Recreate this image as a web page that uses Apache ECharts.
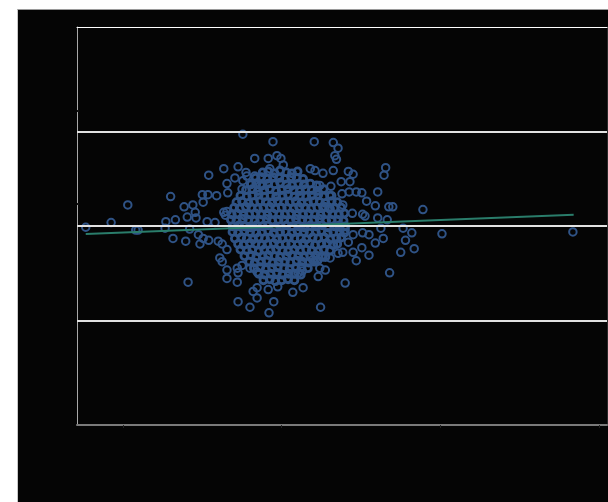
<!DOCTYPE html>
<html>
<head>
<meta charset="utf-8">
<script src="https://cdn.jsdelivr.net/npm/echarts@6/dist/echarts.min.js"></script>
<style>
  html, body { margin: 0; padding: 0; background: #ffffff; }
  #chart {
    position: absolute; left: 17px; top: 9px;
    width: 590px; height: 492px;
    background: #050505;
    border-top: 1px solid #9a9a9a;
    border-left: 1px solid #c8c8c8;
  }
</style>
</head>
<body>
<div id="chart"></div>
<script>
// Bland-Altman: x = mean of the two methods, y = difference
const xTicks = [20, 40, 60, 80]
const yTicks = [0, 10]

// scattered points around the core
const sparsePoints = [
  [15.3, -2.5], [18.5, -2.0], [20.6, -0.1], [21.6, -2.8], [21.9, -2.8],
  [25.3, -2.6], [25.4, -1.9], [26.0, 0.8], [26.3, -3.7], [26.6, -1.7],
  [27.7, -0.3], [28.1, -1.4], [27.9, -4.0], [28.2, -8.4], [28.4, -2.7],
  [28.8, -0.1], [29.1, -0.9], [29.2, -1.5], [29.5, -3.3], [29.7, -4.3],
  [30.0, 1.0], [30.1, 0.2], [30.1, -3.7], [30.6, -1.9], [30.7, 1.0],
  [30.8, 3.1], [30.8, -3.9], [31.6, -2.0], [31.8, 0.9], [32.0, -4.0],
  [32.2, -5.8], [32.5, -6.2], [32.5, -4.3], [32.7, 3.8], [32.7, -0.9],
  [32.9, -1.2], [33.1, 2.2], [33.1, -0.8], [33.1, -4.9], [33.1, -7.1],
  [33.1, -8.0], [33.2, 1.2], [34.1, 2.8], [34.4, -6.9], [34.4, -8.4],
  [34.5, 4.0], [34.5, -7.4], [34.5, -10.5], [35.0, -6.6], [35.0, 1.6],
  [35.1, 2.5], [35.1, 7.5], [35.5, 3.4], [35.6, 3.0], [36.0, -6.9],
  [36.0, -11.1], [36.2, 2.2], [36.4, -9.4], [36.6, 4.9], [36.6, 3.0],
  [36.9, -7.3], [36.9, -9.0], [36.9, -10.1], [37.3, 2.0], [38.3, 4.9],
  [38.3, -9.2], [38.4, -11.7], [38.5, 3.8], [38.9, 6.7], [39.0, -10.5],
  [39.4, 5.2], [39.5, -8.9], [39.9, 4.9], [40.2, 4.2], [40.7, -8.0],
  [41.4, -9.5], [42.1, -7.4], [42.6, -7.2], [42.7, -9.0], [43.6, 3.8],
  [44.1, 6.7], [43.9, -6.0], [44.2, 3.6], [44.6, -7.8], [44.8, 2.0],
  [44.8, -6.9], [44.9, -11.1], [45.1, -5.7], [45.2, 3.3], [45.5, -0.3],
  [45.5, -7.1], [46.1, -0.5], [46.1, -5.8], [46.2, 1.9], [46.3, 0.9],
  [46.5, 3.6], [46.5, 6.6], [46.5, -4.4], [46.7, 5.2], [46.9, 4.8],
  [47.1, 6.0], [47.1, -5.3], [47.3, -2.5], [47.5, 2.4], [47.6, 1.1],
  [47.7, -0.1], [47.7, -5.2], [48.0, -2.8], [48.0, -8.5], [48.4, 3.5],
  [48.4, -4.1], [48.5, 1.3], [48.6, 2.4], [48.9, -1.0], [49.0, 3.2],
  [49.0, -3.3], [49.0, -5.2], [49.4, -6.1], [49.4, 1.3], [50.1, 1.2],
  [50.1, -4.7], [50.2, -1.1], [50.2, -3.1], [50.5, -1.3], [50.7, 0.3],
  [51.0, -3.3], [51.0, -5.5], [51.8, -0.2], [51.8, -4.2], [52.1, 1.3],
  [52.1, -1.5], [52.5, -2.6], [52.8, -3.7], [52.9, 3.1], [53.1, 3.9],
  [53.3, -1.7], [53.5, -0.3], [53.6, -7.4], [54.0, -0.3], [55.0, -5.2],
  [55.3, -2.6], [55.6, -3.9], [56.4, -3.1], [56.7, -4.8], [57.8, -0.6],
  [60.2, -3.2], [76.7, -3.0]
]

// dense core of the cloud
const densePoints = [
  [37.6, 3.4], [38.3, 3.5], [39.1, 3.3], [39.8, 3.6], [40.6, 3.4], [41.3, 3.3], [42.0, 3.5],
  [36.7, 2.8], [37.4, 2.9], [38.2, 2.7], [38.9, 2.9], [39.7, 2.8], [40.4, 2.7], [41.2, 2.9], [41.9, 2.8], [42.7, 2.7],
  [36.1, 2.1], [36.8, 2.2], [37.6, 2.0], [38.3, 2.2], [39.1, 2.1], [39.8, 2.3], [40.6, 2.1], [41.3, 2.0], [42.1, 2.2], [42.8, 2.1], [43.6, 2.2], [44.4, 2.0],
  [35.5, 1.5], [36.3, 1.6], [37.0, 1.4], [37.8, 1.5], [38.5, 1.6], [39.3, 1.4], [40.0, 1.5], [40.8, 1.6], [41.5, 1.5], [42.3, 1.4], [43.0, 1.6], [43.8, 1.5], [44.5, 1.4], [45.3, 1.6],
  [34.8, 0.9], [35.6, 0.8], [36.3, 0.9], [37.1, 1.0], [37.8, 0.8], [38.6, 0.9], [39.3, 0.8], [40.1, 0.9], [40.8, 1.0], [41.6, 0.8], [42.3, 0.9], [43.1, 0.8], [43.8, 0.9], [44.6, 1.0], [45.3, 0.8], [46.1, 0.9],
  [34.3, 0.2], [35.0, 0.3], [35.8, 0.1], [36.5, 0.2], [37.3, 0.3], [38.0, 0.2], [38.8, 0.1], [39.5, 0.3], [40.3, 0.2], [41.0, 0.2], [41.8, 0.3], [42.5, 0.1], [43.3, 0.2], [44.0, 0.3], [44.8, 0.2], [45.5, 0.1], [46.3, 0.3], [47.0, 0.2],
  [34.0, -0.4], [34.7, -0.5], [35.5, -0.3], [36.2, -0.4], [37.0, -0.5], [37.7, -0.4], [38.5, -0.3], [39.2, -0.5], [40.0, -0.4], [40.7, -0.4], [41.5, -0.5], [42.2, -0.3], [43.0, -0.4], [43.7, -0.5], [44.5, -0.4], [45.2, -0.3], [46.0, -0.5], [46.7, -0.4], [47.5, -0.4],
  [33.7, -1.1], [34.4, -1.0], [35.2, -1.2], [35.9, -1.1], [36.7, -1.0], [37.4, -1.1], [38.2, -1.2], [38.9, -1.0], [39.7, -1.1], [40.4, -1.1], [41.2, -1.0], [41.9, -1.2], [42.7, -1.1], [43.4, -1.0], [44.2, -1.1], [44.9, -1.2], [45.7, -1.0], [46.4, -1.1], [47.2, -1.1], [47.9, -1.0],
  [33.6, -1.7], [34.3, -1.8], [35.1, -1.6], [35.8, -1.7], [36.6, -1.8], [37.3, -1.7], [38.1, -1.6], [38.8, -1.8], [39.6, -1.7], [40.3, -1.7], [41.1, -1.8], [41.8, -1.6], [42.6, -1.7], [43.3, -1.8], [44.1, -1.7], [44.8, -1.6], [45.6, -1.8], [46.3, -1.7], [47.1, -1.7], [47.8, -1.8],
  [33.8, -2.4], [34.6, -2.3], [35.3, -2.4], [36.1, -2.5], [36.8, -2.3], [37.6, -2.4], [38.3, -2.3], [39.1, -2.5], [39.8, -2.4], [40.6, -2.3], [41.3, -2.4], [42.1, -2.4], [42.8, -2.5], [43.6, -2.3], [44.3, -2.4], [45.1, -2.3], [45.8, -2.5], [46.6, -2.4], [47.3, -2.3], [48.0, -2.4],
  [33.8, -3.0], [34.5, -3.1], [35.3, -2.9], [36.0, -3.0], [36.8, -3.1], [37.5, -3.0], [38.3, -2.9], [39.0, -3.1], [39.8, -3.0], [40.5, -3.0], [41.3, -3.1], [42.0, -2.9], [42.8, -3.0], [43.5, -3.1], [44.3, -3.0], [45.0, -2.9], [45.8, -3.1], [46.5, -3.0], [47.3, -3.0], [47.9, -3.1],
  [34.1, -3.7], [34.9, -3.6], [35.6, -3.7], [36.4, -3.8], [37.1, -3.6], [37.9, -3.7], [38.6, -3.6], [39.4, -3.8], [40.1, -3.7], [40.9, -3.6], [41.6, -3.7], [42.4, -3.7], [43.1, -3.8], [43.9, -3.6], [44.6, -3.7], [45.4, -3.6], [46.1, -3.8], [46.9, -3.7], [47.5, -3.6],
  [34.5, -4.3], [35.2, -4.4], [36.0, -4.2], [36.7, -4.3], [37.5, -4.4], [38.2, -4.3], [39.0, -4.2], [39.7, -4.4], [40.5, -4.3], [41.2, -4.3], [42.0, -4.4], [42.7, -4.2], [43.5, -4.3], [44.2, -4.4], [45.0, -4.3], [45.7, -4.2], [46.5, -4.4], [47.0, -4.3],
  [34.8, -4.9], [35.6, -5.0], [36.3, -4.9], [37.1, -5.1], [37.8, -4.9], [38.6, -5.0], [39.3, -4.9], [40.1, -5.0], [40.8, -5.1], [41.6, -4.9], [42.3, -5.0], [43.1, -4.9], [43.8, -5.0], [44.6, -5.1], [45.3, -4.9], [46.1, -5.0],
  [35.3, -5.6], [36.1, -5.5], [36.8, -5.7], [37.6, -5.6], [38.3, -5.5], [39.1, -5.6], [39.8, -5.7], [40.6, -5.6], [41.3, -5.5], [42.1, -5.6], [42.8, -5.7], [43.6, -5.6], [44.3, -5.5], [45.1, -5.6], [45.5, -5.7],
  [35.9, -6.2], [36.6, -6.3], [37.4, -6.2], [38.1, -6.1], [38.9, -6.3], [39.6, -6.2], [40.4, -6.2], [41.1, -6.3], [41.9, -6.1], [42.6, -6.2], [43.4, -6.3], [44.1, -6.2], [44.5, -6.1],
  [36.5, -6.9], [37.3, -6.8], [38.0, -7.0], [38.8, -6.9], [39.5, -6.8], [40.3, -6.9], [41.0, -7.0], [41.8, -6.9], [42.5, -6.8], [43.3, -6.9],
  [37.1, -7.5], [37.9, -7.6], [38.6, -7.5], [39.4, -7.4], [40.1, -7.6], [40.9, -7.5], [41.6, -7.5], [42.4, -7.6],
  [37.7, -8.2], [38.5, -8.1], [39.2, -8.3], [40.0, -8.2], [40.8, -8.1], [41.6, -8.2]
]

// mean difference and limits of agreement
const meanDiff = -2.37
const upperLoA = 7.80
const lowerLoA = -12.53

// fitted trend of difference against mean
const trendLine = [[15.3, -3.23], [76.8, -1.15]]

const chart = echarts.init(document.getElementById('chart'))

const pointColor = '#2f5386'

const option = {
  backgroundColor: 'transparent',
  animation: false,
  grid: { left: 59, top: 17, right: 1, bottom: 77 },
  xAxis: [
    {
      type: 'value',
      min: 14.2,
      max: 81.0,
      splitLine: { show: false },
      axisLine: { onZero: false, lineStyle: { color: '#7a7a7a', width: 2 } },
      axisTick: { customValues: xTicks, length: 3, lineStyle: { color: '#222' } },
      axisLabel: { show: false },
    },
    {
      type: 'value',
      position: 'top',
      min: 14.2,
      max: 81.0,
      splitLine: { show: false },
      axisLine: { onZero: false, lineStyle: { color: '#ffffff', width: 1 } },
      axisTick: { show: false },
      axisLabel: { show: false },
    },
  ],
  yAxis: [
    {
      type: 'value',
      min: -23.76,
      max: 19.03,
      splitLine: { show: false },
      axisLine: { show: true, onZero: false, lineStyle: { color: '#a8a8a8', width: 1 } },
      axisTick: { show: true, customValues: yTicks, length: 2, inside: true, lineStyle: { color: '#111', width: 2 } },
      axisLabel: { show: false },
    },
    {
      type: 'value',
      position: 'right',
      min: -23.76,
      max: 19.03,
      splitLine: { show: false },
      axisLine: { show: true, onZero: false, lineStyle: { color: '#2a2a2a', width: 1 } },
      axisTick: { show: false },
      axisLabel: { show: false },
    },
  ],
  series: [
    {
      name: 'limits',
      type: 'line',
      data: [],
      z: 1,
      markLine: {
        silent: true,
        symbol: 'none',
        label: { show: false },
        lineStyle: { color: '#e2e2e2', width: 2, type: 'solid' },
        data: [{ yAxis: upperLoA }, { yAxis: meanDiff }, { yAxis: lowerLoA }],
      },
    },
    {
      name: 'core',
      type: 'scatter',
      z: 2,
      symbol: 'circle',
      symbolSize: 7,
      itemStyle: { color: 'transparent', borderColor: pointColor, borderWidth: 2.8, opacity: 1 },
      data: densePoints,
    },
    {
      name: 'points',
      type: 'scatter',
      z: 2,
      symbol: 'circle',
      symbolSize: 7.5,
      itemStyle: { color: 'transparent', borderColor: pointColor, borderWidth: 2, opacity: 1 },
      data: sparsePoints,
    },
    {
      name: 'trend',
      type: 'line',
      z: 3,
      showSymbol: false,
      data: trendLine,
      lineStyle: { color: '#2a7d6b', width: 2 },
    },
  ],
}

chart.setOption(option)
</script>
</body>
</html>
